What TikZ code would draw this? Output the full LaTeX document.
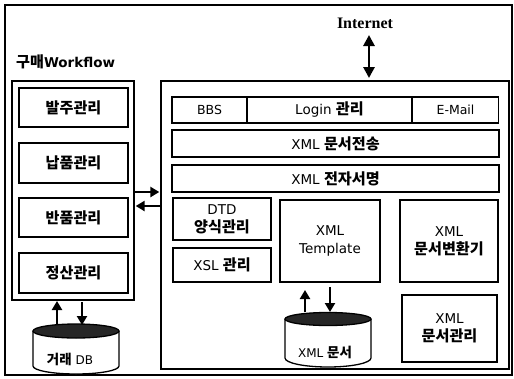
\documentclass[tikz,border=0pt]{standalone}
\usepackage{fontspec}
\setmainfont{DejaVu Sans}
\newfontfamily\krfont{Noto Sans CJK KR}[Scale=1.12]
\newfontfamily\serfont{Liberation Serif}
\usetikzlibrary{arrows.meta}
\newcommand\kor[1]{{\krfont\bfseries #1}}
\begin{document}
\begin{tikzpicture}[x=1pt,y=-1pt,
  panel/.style={draw,line width=1.3pt,inner sep=0pt},
  box/.style={draw,line width=1.3pt,inner sep=0pt,align=center,
    font=\fontsize{13.5}{18}\selectfont},
  smallbox/.style={box,font=\fontsize{12.5}{15}\selectfont},
  arr/.style={line width=2.6pt,-{Triangle[width=10pt,length=9pt]}},
  darr/.style={line width=2.8pt,{Triangle[width=11pt,length=11pt]}-{Triangle[width=11pt,length=11pt]}},
  dbtext/.style={font=\fontsize{12}{14}\selectfont,inner sep=0pt}]
\useasboundingbox (0,0) rectangle (514,378);
% outer frame
\node[panel,minimum width=507pt,minimum height=370pt] (frame) at (258.5,190) {};
% internet
\node[font=\serfont\bfseries\fontsize{16}{18}\selectfont,inner sep=0pt] (inet) at (365,23) {Internet};
% workflow label
\node[font=\bfseries\fontsize{13.5}{15}\selectfont,inner sep=0pt,anchor=west] (wflabel) at (16,62) {\kor{구매}Workflow};
% left panel
\node[panel,minimum width=122pt,minimum height=219pt] (lp) at (73,190.5) {};
\node[box,minimum width=109pt,minimum height=39pt] (b1) at (73.5,107.5) {\kor{발주관리}};
\node[box,minimum width=109pt,minimum height=40pt] (b2) at (73.5,163) {\kor{납품관리}};
\node[box,minimum width=109pt,minimum height=39pt] (b3) at (73.5,217.5) {\kor{반품관리}};
\node[box,minimum width=109pt,minimum height=40pt] (b4) at (73.5,273) {\kor{정산관리}};
% right panel
\node[panel,minimum width=348pt,minimum height=288pt] (rp) at (335,225) {};
\node[smallbox,minimum width=75pt,minimum height=26pt] (bbs) at (209.5,110) {BBS};
\node[box,minimum width=165pt,minimum height=26pt] (login) at (329.5,110) {Login \kor{관리}};
\node[smallbox,minimum width=86pt,minimum height=26pt] (mail) at (455.5,110) {E-Mail};
\node[box,minimum width=327pt,minimum height=27pt] (send) at (335.5,143.5) {XML \kor{문서전송}};
\node[box,minimum width=327pt,minimum height=27pt] (sign) at (335.5,178.5) {XML \kor{전자서명}};
\node[box,minimum width=98pt,minimum height=42pt] (dtd) at (222,219) {DTD\\\kor{양식관리}};
\node[box,minimum width=98pt,minimum height=34pt] (xsl) at (222,265) {XSL \kor{관리}};
\node[box,minimum width=100pt,minimum height=82pt] (tmpl) at (330,241) {XML\\Template};
\node[box,minimum width=98pt,minimum height=82pt] (conv) at (449,241) {XML\\\kor{문서변환기}};
\node[box,minimum width=95pt,minimum height=67pt] (mgmt) at (449.5,328.5) {XML\\\kor{문서관리}};
% cylinder: trade DB
\draw[line width=1.3pt,fill=white] (33,331) -- (33,366) arc[start angle=180,end angle=360,x radius=43pt,y radius=8pt] -- (119,331);
\draw[line width=1.3pt,fill=black!85] (76,331) ellipse[x radius=43pt,y radius=7pt];
\node[dbtext] (db) at (70,359) {\kor{거래} DB};
% cylinder: XML documents
\draw[line width=1.3pt,fill=white] (285,319) -- (285,358) arc[start angle=180,end angle=360,x radius=43pt,y radius=9pt] -- (371,319);
\draw[line width=1.3pt,fill=black!85] (328,319) ellipse[x radius=43pt,y radius=6.5pt];
\node[dbtext] (xdoc) at (325,352) {XML \kor{문서}};
% coordinates for connector ends
\coordinate (i1) at (369,35);
\coordinate (i2) at (369,78);
\coordinate (yr) at (0,192);
\coordinate (yl) at (0,206);
\coordinate (dbU) at (57,325);
\coordinate (lpU) at (57,301);
\coordinate (lpD) at (82,302);
\coordinate (dbD) at (82,325);
\coordinate (xU) at (305,312);
\coordinate (tU) at (305,290);
\coordinate (tD) at (330,287);
\coordinate (xD) at (330,312);
% connectors
\draw[darr] (i1) -- (i2);
\draw[arr] (lp.east |- yr) -- ([xshift=-1pt]rp.west |- yr);
\draw[arr] (rp.west |- yl) -- ([xshift=1pt]lp.east |- yl);
\draw[arr] (dbU) -- (lpU);
\draw[arr] (lpD) -- (dbD);
\draw[arr] (xU) -- (tU);
\draw[arr] (tD) -- (xD);
\end{tikzpicture}
\end{document}
